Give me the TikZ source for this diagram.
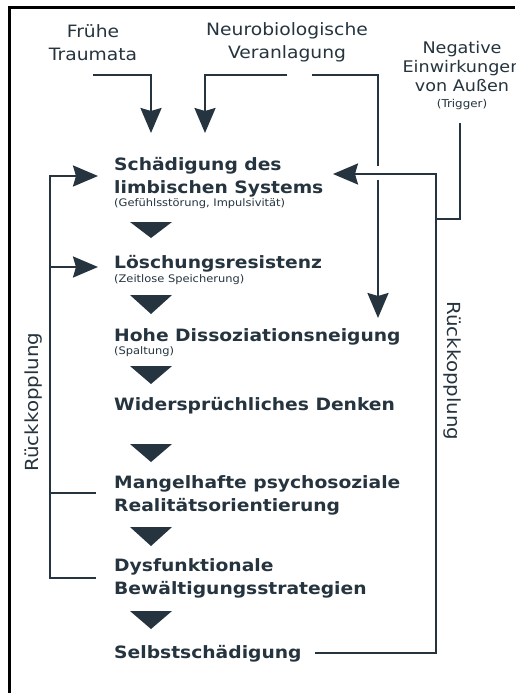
\documentclass[tikz,border=0pt]{standalone}
\usepackage{fontspec}
\setmainfont{DejaVu Sans}
\newfontfamily\vf[FakeStretch=1.1]{DejaVu Sans}
\usetikzlibrary{arrows.meta}
\definecolor{ink}{RGB}{37,52,62}
\begin{document}
\begin{tikzpicture}[x=1pt,y=-1pt,
  item/.style={anchor=base west, inner sep=0pt, align=left, text=ink, font=\vf\bfseries\fontsize{17}{23}\selectfont},
  sub/.style={anchor=base west, inner sep=0pt, text=ink, font=\vf\fontsize{10.4}{12}\selectfont},
  src/.style={anchor=base, inner sep=0pt, align=center, text=ink, font=\vf\fontsize{17}{23}\selectfont},
  neg/.style={anchor=base, inner sep=0pt, align=center, text=ink, font=\vf\fontsize{16}{19}\selectfont},
  lab/.style={inner sep=0pt, text=ink, font=\vf\fontsize{18}{20}\selectfont},
  conn/.style={draw=ink, line width=2.3pt},
  thin/.style={draw=ink, line width=2pt},
  arr/.style={conn, -{Stealth[length=25pt,width=21pt,inset=3pt]}},
  arrthin/.style={thin, -{Stealth[length=25pt,width=21pt,inset=3pt]}},
  tri/.style={fill=ink}]
\useasboundingbox (0,0) rectangle (515,693);
\fill[white] (0,0) rectangle (515,693);
% frame
\draw[line width=3pt] (9,693) -- (9,8) -- (515,8);

% sources (base anchor = baseline of last line)
\node[src] (fruehe) at (93,60) {Frühe\\Traumata};
\node[src] (neuro) at (287,59) {Neurobiologische\\Veranlagung};
\node[neg] (negat) at (462,91) {Negative\\Einwirkungen\\von Außen};
\node[anchor=base, inner sep=0pt, text=ink, font=\vf\fontsize{10.8}{12}\selectfont] (trig) at (462,107) {(Trigger)};

% chain items
\node[item] (s1) at (114,193) {Schädigung des\\limbischen Systems};
\node[sub] (s1b) at (114,206) {(Gefühlsstörung, Impulsivität)};
\node[item] (s2) at (114,268) {Löschungsresistenz};
\node[sub] (s2b) at (114,282) {(Zeitlose Speicherung)};
\node[item] (s3) at (114,341) {Hohe Dissoziationsneigung};
\node[sub] (s3b) at (114,354) {(Spaltung)};
\node[item] (s4) at (114,410) {Widersprüchliches Denken};
\node[item] (s5) at (114,511) {Mangelhafte psychosoziale\\Realitätsorientierung};
\node[item] (s6) at (114,594) {Dysfunktionale\\Bewältigungsstrategien};
\node[item] (s7) at (114,658) {Selbstschädigung};

% triangles
\foreach \t/\b in {222/238, 295/314, 366/384, 444/462, 527/546, 611/629}
  \fill[tri] (130,\t) -- (172,\t) -- (151,\b) -- cycle;

% side labels
\node[lab, rotate=90] (rkl) at (34,402) {Rückkopplung};
\node[lab, rotate=-90] (rkr) at (452,371) {Rückkopplung};

% connector points
\coordinate (f0) at (93,75);
\coordinate (f1) at (151,133);
\coordinate (n0) at (287,75);
\coordinate (n1) at (205,133);
\coordinate (n2) at (312,75);
\coordinate (n3) at (378,166);
\coordinate (n4) at (378,180);
\coordinate (n5) at (378,318);
\coordinate (r0) at (315,653);
\coordinate (r1) at (436,174);
\coordinate (r2) at (333,174);
\coordinate (g0) at (460,123);
\coordinate (g1) at (436,219);
\coordinate (l0) at (96,578);
\coordinate (l1) at (50,578);
\coordinate (l2) at (98,176);
\coordinate (l3) at (50,267);
\coordinate (l4) at (98,267);
\coordinate (l5) at (96,493);
\coordinate (l6) at (50,493);

\draw[arr] (f0) -| (f1);
\draw[arr] (n0) -| (n1);
\draw[conn] (n2) -| (n3);
\draw[arr] (n4) -- (n5);
\draw[arrthin] (r0) -| (r1) -- (r2);
\draw[thin] (g0) |- (g1);
\draw[arr] (l0) -- (l1) |- (l2);
\draw[arr] (l3) -- (l4);
\draw[conn] (l5) -- (l6);
\end{tikzpicture}
\end{document}
